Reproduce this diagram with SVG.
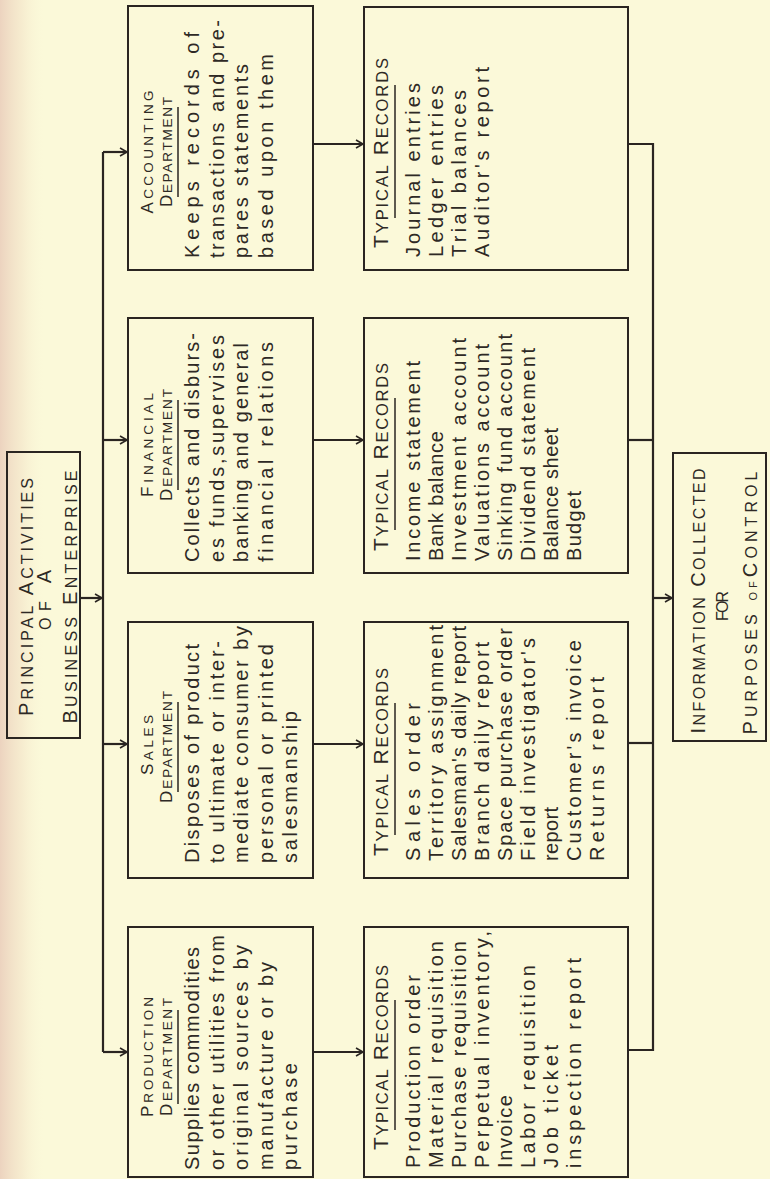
<svg xmlns="http://www.w3.org/2000/svg" width="770" height="1179" viewBox="0 0 770 1179">
<defs>
<linearGradient id="edge" x1="0" y1="0" x2="1" y2="0">
<stop offset="0" stop-color="#ecd3bf" stop-opacity="1"/>
<stop offset="0.5" stop-color="#f3e4c9" stop-opacity="0.6"/>
<stop offset="1" stop-color="#fbf8d8" stop-opacity="0"/>
</linearGradient>
<marker id="arr" markerWidth="12" markerHeight="12" refX="9" refY="5" orient="auto" markerUnits="userSpaceOnUse">
<path d="M2,1 L9,5 L2,9" fill="none" stroke="#2a2521" stroke-width="1.6"/>
</marker>
</defs>
<style>
.box{fill:none;stroke:#2a2521;stroke-width:2}
.ln{fill:none;stroke:#2a2521;stroke-width:2.2}
.ul{fill:none;stroke:#2a2521;stroke-width:1.5}
.a{marker-end:url(#arr)}
text{font-family:"Liberation Sans",Arial,sans-serif;fill:#2e2925}
.b{font-size:20px}
.h{font-size:17px;text-anchor:middle}
.h .s{font-size:13.5px}
.th{font-size:21px}
.th .s{font-size:16.5px}
.t{font-size:20px;text-anchor:middle}
.t .s{font-size:16px}
.t .xs{font-size:11px}
</style>
<rect x="0" y="0" width="770" height="1179" fill="#fbf9d9"/>
<rect x="0" y="0" width="45" height="1179" fill="url(#edge)"/>

<g id="connectors">
<path class="ln" d="M103,152 V1052"/>
<path class="ln a" d="M103,152 H127"/>
<path class="ln a" d="M103,440 H127"/>
<path class="ln a" d="M103,744 H127"/>
<path class="ln a" d="M103,1052 H127"/>
<path class="ln a" d="M80,598 H102"/>
<path class="ln a" d="M313,144 H363"/>
<path class="ln a" d="M313,440 H363"/>
<path class="ln a" d="M313,744 H363"/>
<path class="ln a" d="M313,1052 H363"/>
<path class="ln" d="M628,144 H653 V1050 H628"/>
<path class="ln" d="M628,440 H653"/>
<path class="ln" d="M628,743 H653"/>
<path class="ln a" d="M653,598 H672"/>
</g>

<g id="principal">
<rect class="box" x="7" y="452" width="73" height="286"/>
<g transform="rotate(-90)">
<text class="t" x="-597" y="33" textLength="238">P<tspan class="s">RINCIPAL</tspan> A<tspan class="s">CTIVITIES</tspan></text>
<text class="t" x="-600" y="51" textLength="60"><tspan class="s">OF</tspan> A</text>
<text class="t" x="-597" y="77" textLength="253">B<tspan class="s">USINESS</tspan> E<tspan class="s">NTERPRISE</tspan></text>
</g>
</g>

<g id="accounting">
<rect class="box" x="128" y="6" width="185" height="264"/>
<path class="ul" d="M178,197 V107"/>
<g transform="rotate(-90)">
<text class="h" x="-152" y="153" textLength="123">A<tspan class="s">CCOUNTING</tspan></text>
<text class="h" x="-152" y="172" textLength="110">D<tspan class="s">EPARTMENT</tspan></text>
<text class="b" x="-258" y="199" textLength="226">Keeps records of</text>
<text class="b" x="-258" y="223.5" textLength="238">transactions and pre-</text>
<text class="b" x="-258" y="248" textLength="194">pares statements</text>
<text class="b" x="-258" y="272.5" textLength="204">based upon them</text>
</g>
</g>

<g id="financial">
<rect class="box" x="128" y="318" width="185" height="255"/>
<path class="ul" d="M178,490 V400"/>
<g transform="rotate(-90)">
<text class="h" x="-445" y="153" textLength="104">F<tspan class="s">INANCIAL</tspan></text>
<text class="h" x="-445" y="172" textLength="112">D<tspan class="s">EPARTMENT</tspan></text>
<text class="b" x="-562" y="199" textLength="229">Collects and disburs-</text>
<text class="b" x="-562" y="223.5" textLength="227">es funds,supervises</text>
<text class="b" x="-562" y="248" textLength="219">banking and general</text>
<text class="b" x="-562" y="272.5" textLength="220">financial relations</text>
</g>
</g>

<g id="sales">
<rect class="box" x="128" y="622" width="185" height="256"/>
<path class="ul" d="M178,792 V702"/>
<g transform="rotate(-90)">
<text class="h" x="-745" y="153" textLength="60">S<tspan class="s">ALES</tspan></text>
<text class="h" x="-747" y="172" textLength="112">D<tspan class="s">EPARTMENT</tspan></text>
<text class="b" x="-863" y="199" textLength="219">Disposes of product</text>
<text class="b" x="-863" y="223.5" textLength="222">to ultimate or inter-</text>
<text class="b" x="-863" y="248" textLength="237">mediate consumer by</text>
<text class="b" x="-863" y="272.5" textLength="219">personal or printed</text>
<text class="b" x="-863" y="297" textLength="152">salesmanship</text>
</g>
</g>

<g id="production">
<rect class="box" x="128" y="927" width="185" height="250"/>
<path class="ul" d="M178,1104 V1010"/>
<g transform="rotate(-90)">
<text class="h" x="-1057" y="153" textLength="120">P<tspan class="s">RODUCTION</tspan></text>
<text class="h" x="-1057" y="172" textLength="118">D<tspan class="s">EPARTMENT</tspan></text>
<text class="b" x="-1170" y="199" textLength="223">Supplies commodities</text>
<text class="b" x="-1170" y="223.5" textLength="235">or other utilities from</text>
<text class="b" x="-1170" y="248" textLength="225">original sources by</text>
<text class="b" x="-1170" y="272.5" textLength="208">manufacture or by</text>
<text class="b" x="-1170" y="297" textLength="107">purchase</text>
</g>
</g>

<g id="accounting-records">
<rect class="box" x="364" y="7" width="264" height="263"/>
<path class="ul" d="M395,218 V85"/>
<g transform="rotate(-90)">
<text class="th" x="-248" y="388" textLength="190">T<tspan class="s">YPICAL</tspan> R<tspan class="s">ECORDS</tspan></text>
<text class="b" x="-257" y="420" textLength="174">Journal entries</text>
<text class="b" x="-257" y="443" textLength="172">Ledger entries</text>
<text class="b" x="-257" y="466" textLength="167">Trial balances</text>
<text class="b" x="-257" y="489" textLength="190">Auditor's report</text>
</g>
</g>

<g id="financial-records">
<rect class="box" x="364" y="318" width="264" height="255"/>
<path class="ul" d="M395,530 V398"/>
<g transform="rotate(-90)">
<text class="th" x="-551" y="388" textLength="188">T<tspan class="s">YPICAL</tspan> R<tspan class="s">ECORDS</tspan></text>
<text class="b" x="-561" y="420" textLength="200">Income statement</text>
<text class="b" x="-561" y="443" textLength="130">Bank balance</text>
<text class="b" x="-561" y="466" textLength="223">Investment account</text>
<text class="b" x="-561" y="489" textLength="217">Valuations account</text>
<text class="b" x="-561" y="512" textLength="227">Sinking fund account</text>
<text class="b" x="-561" y="535" textLength="213">Dividend statement</text>
<text class="b" x="-561" y="558" textLength="133">Balance sheet</text>
<text class="b" x="-561" y="581" textLength="70">Budget</text>
</g>
</g>

<g id="sales-records">
<rect class="box" x="364" y="622" width="264" height="256"/>
<path class="ul" d="M395,835 V703"/>
<g transform="rotate(-90)">
<text class="th" x="-856" y="388" textLength="188">T<tspan class="s">YPICAL</tspan> R<tspan class="s">ECORDS</tspan></text>
<text class="b" x="-861" y="420" textLength="158">Sales order</text>
<text class="b" x="-861" y="443" textLength="236">Territory assignment</text>
<text class="b" x="-861" y="466" textLength="235">Salesman's daily report</text>
<text class="b" x="-861" y="489" textLength="219">Branch daily report</text>
<text class="b" x="-861" y="512" textLength="233">Space purchase order</text>
<text class="b" x="-861" y="535" textLength="223">Field investigator's</text>
<text class="b" x="-861" y="558" textLength="54">report</text>
<text class="b" x="-861" y="581" textLength="221">Customer's invoice</text>
<text class="b" x="-861" y="604" textLength="184">Returns report</text>
</g>
</g>

<g id="production-records">
<rect class="box" x="364" y="927" width="264" height="250"/>
<path class="ul" d="M395,1130 V1000"/>
<g transform="rotate(-90)">
<text class="th" x="-1150" y="388" textLength="185">T<tspan class="s">YPICAL</tspan> R<tspan class="s">ECORDS</tspan></text>
<text class="b" x="-1168" y="420" textLength="193">Production order</text>
<text class="b" x="-1168" y="443" textLength="227">Material requisition</text>
<text class="b" x="-1168" y="466" textLength="227">Purchase requisition</text>
<text class="b" x="-1168" y="489" textLength="237">Perpetual inventory,</text>
<text class="b" x="-1168" y="512" textLength="73">Invoice</text>
<text class="b" x="-1168" y="535" textLength="203">Labor requisition</text>
<text class="b" x="-1168" y="558" textLength="123">Job ticket</text>
<text class="b" x="-1168" y="581" textLength="210">inspection report</text>
</g>
</g>

<g id="information">
<rect class="box" x="673" y="453" width="93" height="288"/>
<g transform="rotate(-90)">
<text class="t" x="-601" y="705" textLength="265">I<tspan class="s">NFORMATION</tspan> C<tspan class="s">OLLECTED</tspan></text>
<text class="t" x="-606" y="728" textLength="30"><tspan class="s">FOR</tspan></text>
<text class="t" x="-603" y="757" textLength="263">P<tspan class="s">URPOSES</tspan> <tspan class="xs">OF</tspan>C<tspan class="s">ONTROL</tspan></text>
</g>
</g>
</svg>
